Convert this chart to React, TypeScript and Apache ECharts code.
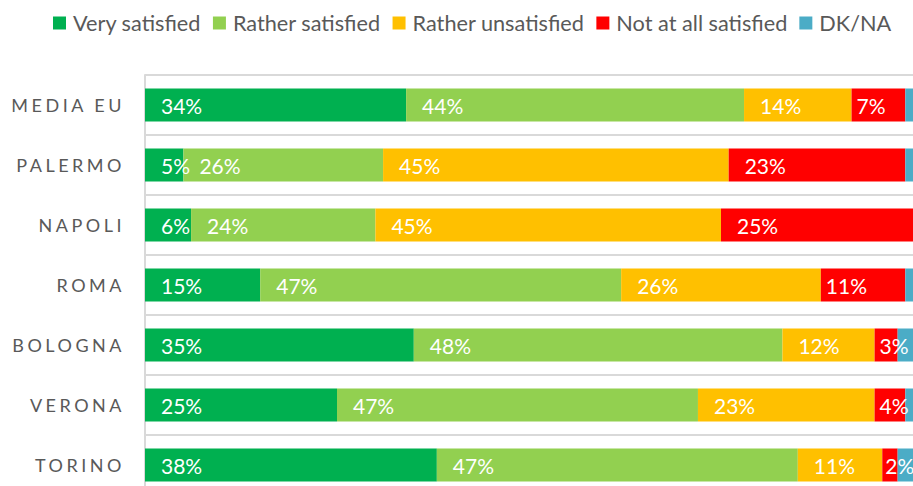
import React, { useEffect, useRef } from "react";
import * as echarts from "echarts";

const categories = ["MEDIA EU", "PALERMO", "NAPOLI", "ROMA", "BOLOGNA", "VERONA", "TORINO"];
const verySatisfied = [34, 5, 6, 15, 35, 25, 38];
const ratherSatisfied = [44, 26, 24, 47, 48, 47, 47];
const ratherUnsatisfied = [14, 45, 45, 26, 12, 23, 11];
const notAtAllSatisfied = [7, 23, 25, 11, 3, 4, 2];
const dkNa = [1, 1, 0, 1, 2, 1, 2];

const seriesNames = ["Very satisfied", "Rather satisfied", "Rather unsatisfied", "Not at all satisfied", "DK/NA"];
const seriesColors = ["#00b050", "#92d050", "#ffc000", "#ff0000", "#4bacc6"];

export default function App() {
  const ref = useRef<HTMLDivElement>(null);
  useEffect(() => {
    document.body.style.margin = "0";
    if (!ref.current) return;
    const chart = echarts.init(ref.current, null, { renderer: "svg" });
    const all = [verySatisfied, ratherSatisfied, ratherUnsatisfied, notAtAllSatisfied, dkNa];
    const series = all.map((vals, i) => ({
      name: seriesNames[i],
      type: "bar",
      stack: "total",
      barWidth: 33,
      itemStyle: { color: seriesColors[i] },
      label: {
        show: i < 4,
        position: "insideLeft",
        distance: 16,
        color: "#ffffff",
        fontFamily: "Lato",
        fontSize: 21,
        formatter: "{c}%",
      },
      data: vals.map((v) =>
        i === 3 && v < 15
          ? { value: v, label: { distance: v < 3 ? 3 : 5 } }
          : v === 0
          ? { value: v, label: { show: false } }
          : v
      ),
    }));
    chart.setOption({
      animation: false,
      legend: {
        left: 53,
        top: 12,
        padding: 0,
        icon: "rect",
        itemWidth: 13,
        itemHeight: 13,
        itemGap: 12,
        textStyle: { color: "#595959", fontFamily: "Lato", fontSize: 21.7, padding: [0, 0, 0, 2] },
        data: seriesNames,
      },
      grid: { left: 145, right: 0, top: 75, bottom: 0, containLabel: false },
      xAxis: {
        type: "value",
        min: 0,
        max: 100,
        show: false,
      },
      yAxis: {
        type: "category",
        data: categories,
        inverse: true,
        axisLine: { show: true, lineStyle: { color: "#d9d9d9", width: 2 } },
        axisTick: { show: false },
        splitLine: { show: true, lineStyle: { color: "#d9d9d9", width: 2 } },
        axisLabel: {
          color: "#595959",
          fontFamily: "Lato",
          fontSize: 18,
          margin: 20,
        },
      },
      series,
    });
    const texts = ref.current.querySelectorAll("text");
    texts.forEach((t) => {
      if (categories.includes((t.textContent || "").trim())) {
        (t as SVGTextElement).style.letterSpacing = "3.5px";
      }
    });
    return () => chart.dispose();
  }, []);
  return (
    <div style={{ width: 913, height: 486, overflow: "hidden" }}>
      <div ref={ref} style={{ width: 913, height: 495 }} />
    </div>
  );
}
